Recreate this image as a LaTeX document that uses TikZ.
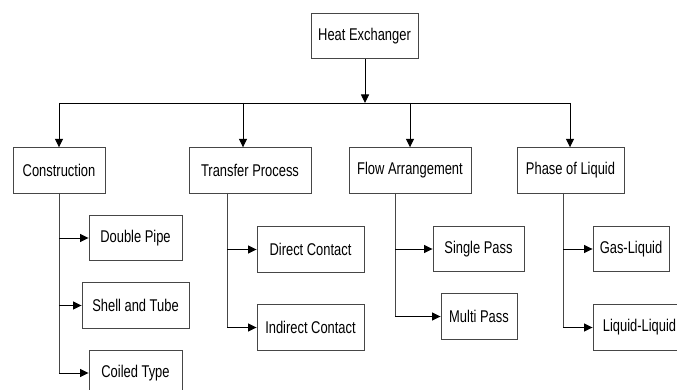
\documentclass[tikz,border=0pt]{standalone}
\usepackage{fontspec}
\setmainfont{Liberation Sans}[FakeStretch=0.76]
\usetikzlibrary{arrows.meta}
\definecolor{edge}{RGB}{70,70,70}
\begin{document}
\begin{tikzpicture}[x=1pt,y=-1pt,
  box/.style={draw=edge,line width=0.9pt,rectangle,inner sep=0pt,
    minimum height=45.5pt,font=\fontsize{17}{20}\selectfont},
  arr/.style={draw=black,line width=0.9pt,-{Triangle[length=8.5pt,width=8pt]}},
  link/.style={draw=black,line width=0.9pt},
  spine/.style={draw=edge,line width=0.9pt}]
\useasboundingbox (0,0) rectangle (677,390);
\clip (0,0) rectangle (677,390);
\fill[white] (0,0) rectangle (677,390);

% root
\node[box,minimum width=107pt] (he) at (364.5,36) {Heat Exchanger};

% categories
\node[box,minimum width=92pt]  (con) at (59,170.5)  {Construction};
\node[box,minimum width=122pt] (tra) at (250,170.5) {Transfer Process};
\node[box,minimum width=122pt] (flo) at (410,170.5) {Flow Arrangement};
\node[box,minimum width=107pt] (pha) at (570.5,170.5) {Phase of Liquid};

% leaves
\node[box,minimum width=93pt]  (dp) at (135.5,238)   {Double Pipe};
\node[box,minimum width=107pt] (st) at (135.5,305.5) {Shell and Tube};
\node[box,minimum width=93pt]  (ct) at (135.5,373)   {Coiled Type};
\node[box,minimum width=107pt] (dc) at (310.5,249.5) {Direct Contact};
\node[box,minimum width=107pt] (ic) at (310.5,327.5) {Indirect Contact};
\node[box,minimum width=91pt]  (sp) at (478.5,249)   {Single Pass};
\node[box,minimum width=76pt]  (mp) at (479,316.5)   {Multi Pass};
\node[box,minimum width=76pt]  (gl) at (631,249)     {Gas-Liquid};
\node[box,minimum width=93pt]  (ll) at (639.5,327.5) {Liquid-Liquid};

% distribution bus
\coordinate (busC) at (59,103);
\coordinate (busT) at (243,103);
\coordinate (busF) at (410,103);
\coordinate (busP) at (570,103);
\draw[arr] (he.south -| 365,0) -- (365,103);
\draw[link] (busC) -- (busP);
\draw[arr] (busC) -- (busC |- con.north);
\draw[arr] (busT) -- (busT |- tra.north);
\draw[arr] (busF) -- (busF |- flo.north);
\draw[arr] (busP) -- (busP |- pha.north);

% spines below each category
\coordinate (sC) at (59,193);
\coordinate (sT) at (227,193);
\coordinate (sF) at (395,193);
\coordinate (sP) at (563,193);
\draw[spine] (sC) -- (sC |- ct.west);
\draw[spine] (sT) -- (sT |- ic.west);
\draw[spine] (sF) -- (sF |- mp.west);
\draw[spine] (sP) -- (sP |- ll.west);

\draw[arr] (sC |- dp.west) -- (dp.west);
\draw[arr] (sC |- st.west) -- (st.west);
\draw[arr] (sC |- ct.west) -- (ct.west);
\draw[arr] (sT |- dc.west) -- (dc.west);
\draw[arr] (sT |- ic.west) -- (ic.west);
\draw[arr] (sF |- sp.west) -- (sp.west);
\draw[arr] (sF |- mp.west) -- (mp.west);
\draw[arr] (sP |- gl.west) -- (gl.west);
\draw[arr] (sP |- ll.west) -- (ll.west);
\end{tikzpicture}
\end{document}
